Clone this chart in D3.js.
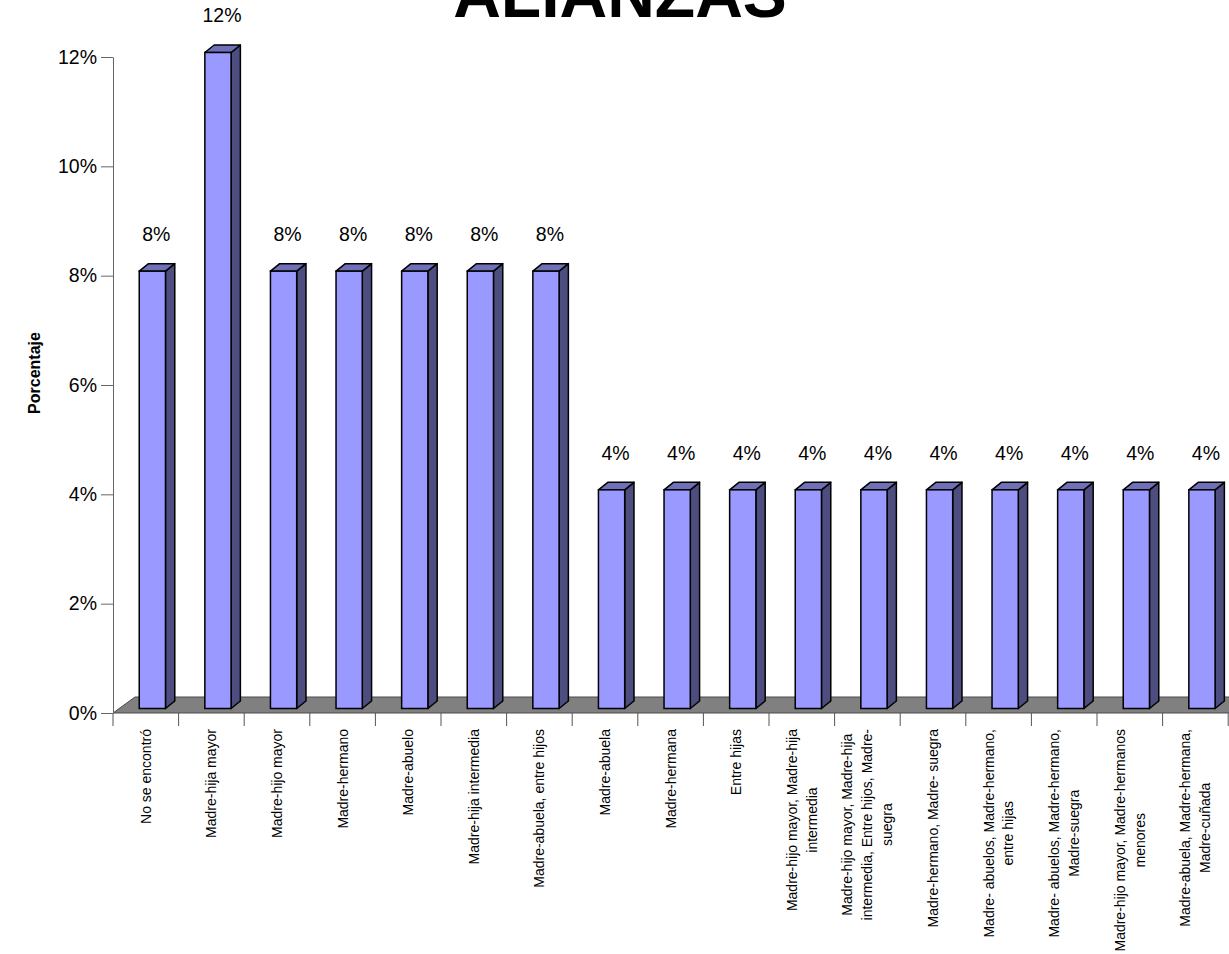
<!DOCTYPE html>
<html>
<head>
<meta charset="utf-8">
<script src="https://cdn.jsdelivr.net/npm/d3@7"></script>
<style>
  html, body { margin: 0; padding: 0; background: #fff; }
  svg { display: block; font-family: "Liberation Sans", Arial, sans-serif; }
</style>
</head>
<body>
<svg id="chart" width="1229" height="954"></svg>
<script>
// Alliance types found, share of cases
const categories = [
  "No se encontró",
  "Madre-hija mayor",
  "Madre-hijo mayor",
  "Madre-hermano",
  "Madre-abuelo",
  "Madre-hija intermedia",
  "Madre-abuela, entre hijos",
  "Madre-abuela",
  "Madre-hermana",
  "Entre hijas",
  "Madre-hijo mayor, Madre-hija\nintermedia",
  "Madre-hijo mayor, Madre-hija\nintermedia, Entre hijos, Madre-\nsuegra",
  "Madre-hermano, Madre- suegra",
  "Madre- abuelos, Madre-hermano,\nentre hijas",
  "Madre- abuelos, Madre-hermano,\nMadre-suegra",
  "Madre-hijo mayor, Madre-hermanos\nmenores",
  "Madre-abuela, Madre-hermana,\nMadre-cuñada"
];
const values = [0.08, 0.12, 0.08, 0.08, 0.08, 0.08, 0.08,
                0.04, 0.04, 0.04, 0.04, 0.04, 0.04, 0.04, 0.04, 0.04, 0.04];
const yTicks = [0, 0.02, 0.04, 0.06, 0.08, 0.10, 0.12];
const chartTitle = "ALIANZAS";
const yTitle = "Porcentaje";

const svg = d3.select("#chart");
const fmt = d3.format(".0%");

// plot frame
const plotLeft = 113, plotRight = 1228.2, plotTop = 57, plotBottom = 713;
const x = d3.scaleBand().domain(categories).range([plotLeft, plotRight]).padding(0);
const y = d3.scaleLinear().domain([0, 0.12]).range([plotBottom, plotTop]);
const bw = x.bandwidth();

// 3D depth vectors
const floorDx = 22, floorDy = -16;
const barDx = 9.3, barDy = -7.5;
const barLift = 4.5;

const pts = a => a.map(p => p.join(",")).join(" ");

// floor
svg.append("polygon")
  .attr("points", pts([
    [plotLeft, plotBottom], [plotRight, plotBottom],
    [plotRight + floorDx, plotBottom + floorDy], [plotLeft + floorDx, plotBottom + floorDy]
  ]))
  .attr("fill", "#808080")
  .attr("stroke", "#4a4a4a")
  .attr("stroke-width", 1);

// category tick marks at band boundaries
const bounds = categories.map(c => x(c)).concat([x.range()[1]]);
svg.append("g").selectAll("line").data(bounds).join("line")
  .attr("x1", d => d).attr("x2", d => d)
  .attr("y1", plotBottom).attr("y2", plotBottom + 13)
  .attr("stroke", "#555").attr("stroke-width", 1);

// y axis
const yAxis = svg.append("g")
  .attr("transform", `translate(${plotLeft},0)`)
  .call(d3.axisLeft(y).tickValues(yTicks).tickFormat(fmt)
    .tickSize(12).tickPadding(4).tickSizeOuter(0));
yAxis.select(".domain").attr("stroke", "#666");
yAxis.selectAll(".tick line").attr("stroke", "#666");
yAxis.selectAll(".tick text")
  .attr("font-size", "19.5px")
  .attr("font-family", "Liberation Sans, Arial, sans-serif")
  .attr("fill", "#000");

// bars
const barData = categories.map((c, i) => {
  const fx = x(c) + 0.4 * bw, fw = 0.4 * bw;
  const ft = y(values[i]) - barLift, fb = y(0) - barLift;
  return { c, v: values[i], fx, fw, ft, fb };
});
const bars = svg.append("g").selectAll("g").data(barData).join("g");
bars.append("polygon")
  .attr("points", d => pts([[d.fx + d.fw, d.ft], [d.fx + d.fw + barDx, d.ft + barDy],
                            [d.fx + d.fw + barDx, d.fb + barDy], [d.fx + d.fw, d.fb]]))
  .attr("fill", "#4d4d80").attr("stroke", "#000").attr("stroke-width", 1.5)
  .attr("stroke-linejoin", "round");
bars.append("polygon")
  .attr("points", d => pts([[d.fx, d.ft], [d.fx + d.fw, d.ft],
                            [d.fx + d.fw + barDx, d.ft + barDy], [d.fx + barDx, d.ft + barDy]]))
  .attr("fill", "#7070b8").attr("stroke", "#000").attr("stroke-width", 1.5)
  .attr("stroke-linejoin", "round");
bars.append("rect")
  .attr("x", d => d.fx).attr("y", d => d.ft)
  .attr("width", d => d.fw).attr("height", d => d.fb - d.ft)
  .attr("fill", "#9999ff").attr("stroke", "#000").attr("stroke-width", 1.5);

// value labels
svg.append("g").selectAll("text").data(barData).join("text")
  .attr("x", d => d.fx + d.fw / 2 + 4)
  .attr("y", d => d.ft - 37)
  .attr("dy", "0.35em")
  .attr("text-anchor", "middle")
  .attr("font-size", "19.5px")
  .attr("fill", "#000")
  .text(d => fmt(d.v));

// category labels, rotated, wrapped lines centred on each other
const lineGap = 20;
const catG = svg.append("g").selectAll("g").data(categories).join("g")
  .attr("transform", c => `translate(${x(c) + bw / 2},${plotBottom + 16}) rotate(-90)`);
catG.each(function (c) {
  const g = d3.select(this);
  const lines = c.split("\n");
  const texts = lines.map((ln, k) => g.append("text")
    .attr("font-size", "14px")
    .attr("fill", "#000")
    .attr("text-anchor", "middle")
    .attr("dy", "0.35em")
    .attr("y", (k - (lines.length - 1) / 2) * lineGap)
    .text(ln));
  const maxW = d3.max(texts, t => t.node().getComputedTextLength());
  texts.forEach(t => t.attr("x", -maxW / 2));
});

// axis title
svg.append("text")
  .attr("transform", "translate(34,373) rotate(-90)")
  .attr("text-anchor", "middle")
  .attr("dy", "0.35em")
  .attr("font-size", "16px")
  .attr("font-weight", "bold")
  .text(yTitle);

// chart title
svg.append("text")
  .attr("x", 620).attr("y", 17)
  .attr("text-anchor", "middle")
  .attr("font-size", "66px")
  .attr("font-weight", "bold")
  .text(chartTitle);
</script>
</body>
</html>
